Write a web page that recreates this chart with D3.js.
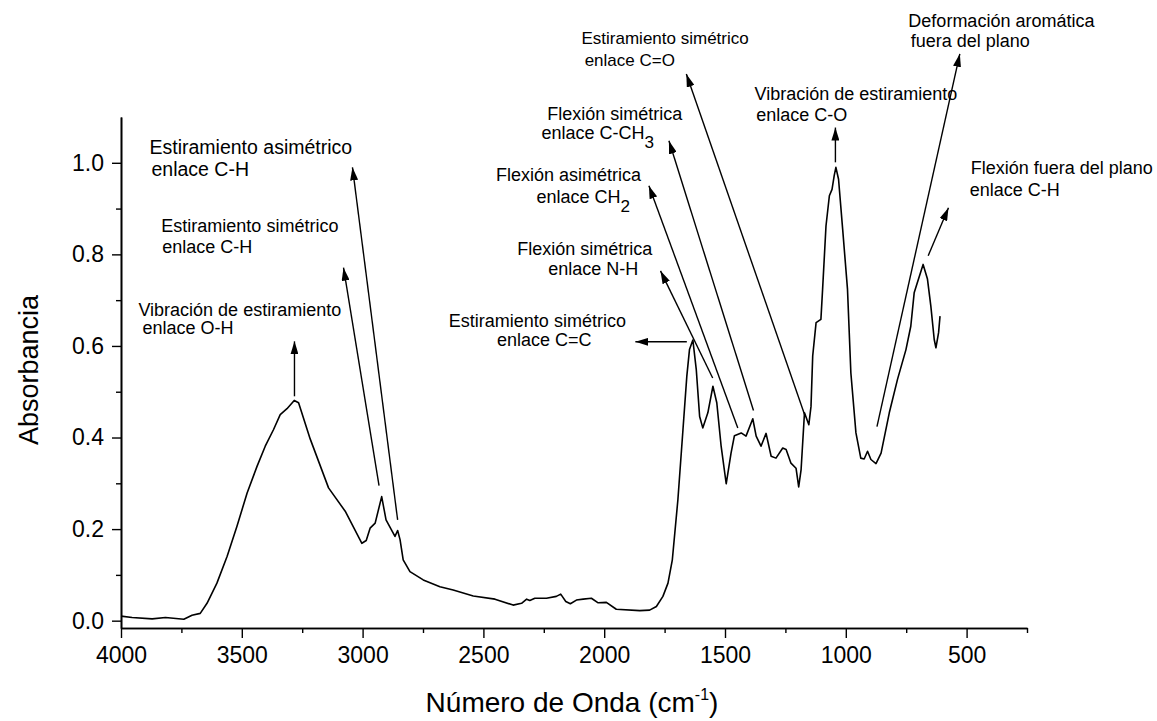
<!DOCTYPE html>
<html>
<head>
<meta charset="utf-8">
<script src="https://cdn.jsdelivr.net/npm/d3@7/dist/d3.min.js"></script>
<style>
  html, body { margin: 0; padding: 0; background: #fff; }
  svg { display: block; font-family: "Liberation Sans", Arial, sans-serif; }
</style>
</head>
<body>
<svg id="chart" width="1157" height="721"></svg>
<script>
// ---- Data ----
const wavenumber = [4000,3954,3871,3816,3740,3706,3672,3644,3603,3561,3520,3478,3437,3403,3369,3341,3313,3283,3265,3217,3141,3072,3003,2985,2969,2948,2921,2903,2866,2855,2845,2832,2804,2749,2680,2625,2542,2452,2377,2342,2321,2308,2287,2239,2198,2180,2159,2140,2115,2087,2053,2025,1991,1950,1853,1812,1784,1757,1736,1718,1695,1674,1658,1647,1633,1619,1605,1592,1571,1550,1534,1516,1495,1475,1461,1433,1413,1385,1371,1351,1330,1309,1289,1261,1247,1227,1206,1195,1185,1171,1153,1144,1137,1123,1103,1096,1082,1068,1057,1048,1041,1030,1013,993,979,958,938,924,910,896,875,854,820,786,751,731,717,704,680,662,648,634,627,616,610];
const absorbance = [0.010,0.007,0.004,0.007,0.003,0.012,0.016,0.038,0.082,0.140,0.206,0.279,0.337,0.381,0.417,0.450,0.463,0.481,0.476,0.397,0.290,0.239,0.169,0.175,0.202,0.213,0.271,0.220,0.184,0.197,0.177,0.133,0.107,0.089,0.074,0.067,0.054,0.047,0.034,0.038,0.047,0.044,0.049,0.049,0.053,0.058,0.042,0.037,0.045,0.047,0.049,0.039,0.040,0.025,0.022,0.023,0.031,0.053,0.082,0.133,0.264,0.417,0.534,0.592,0.613,0.549,0.446,0.421,0.454,0.512,0.476,0.381,0.299,0.366,0.404,0.410,0.403,0.441,0.403,0.381,0.409,0.359,0.355,0.377,0.374,0.344,0.333,0.292,0.330,0.454,0.428,0.468,0.578,0.651,0.658,0.724,0.862,0.928,0.942,0.972,0.990,0.964,0.855,0.724,0.541,0.410,0.355,0.353,0.370,0.352,0.343,0.366,0.454,0.527,0.592,0.643,0.716,0.738,0.778,0.746,0.687,0.614,0.596,0.629,0.665];

const xMajorTicks = [4000,3500,3000,2500,2000,1500,1000,500];
const xMinorTicks = [3750,3250,2750,2250,1750,1250,750,250];
const yMajorTicks = [0.0,0.2,0.4,0.6,0.8,1.0];
const yMinorTicks = [0.1,0.3,0.5,0.7,0.9];

const xTitle = "Número de Onda (cm";
const xTitleSup = "-1";
const yTitle = "Absorbancia";

// Annotations: label lines (text, subscript, anchor in data units) and arrow (tail -> head) in data units
const annLine1 = ["Estiramiento asimétrico","Estiramiento simétrico","Vibración de estiramiento","Estiramiento simétrico","Estiramiento simétrico","Flexión simétrica","Flexión asimétrica","Flexión simétrica","Vibración de estiramiento","Deformación aromática","Flexión fuera del plano"];
const annLine2 = ["enlace C-H","enlace C-H","enlace O-H","enlace C=C","enlace C=O","enlace C-CH","enlace CH","enlace N-H","enlace C-O","fuera del plano","enlace C-H"];
const annSub2  = ["","","","","","3","2","","","",""];
const annL1Pos = [[3882,1.019],[3833,0.849],[3928,0.665],[2643,0.641],[2094,1.260],[2236,1.094],[2448,0.961],[2360,0.798],[1378,1.138],[741,1.296],[483,0.975]];
const annL2Pos = [[3874,0.971],[3829,0.802],[3911,0.625],[2444,0.599],[2081,1.212],[2260,1.052],[2280,0.913],[2232,0.756],[1371,1.092],[731,1.253],[487,0.928]];
const annFont  = [19.5,18,18,18,17,18,18,18,18,18,18];
const arrowTail = [[2855,0.220],[2932,0.295],[3282,0.490],[1658,0.609],[1170,0.449],[1382,0.459],[1447,0.421],[1551,0.530],[1043,1.001],[871,0.424],[659,0.797]];
const arrowHead = [[3042,0.990],[3079,0.771],[3282,0.610],[1871,0.609],[1660,1.194],[1732,1.048],[1815,0.950],[1767,0.764],[1043,1.077],[528,1.238],[575,0.902]];

// ---- Chart ----
const svg = d3.select("#chart");
const x = d3.scaleLinear().domain([4000, 250]).range([121, 1027]);
const y = d3.scaleLinear().domain([-0.016, 1.1]).range([628, 117]);

// defs: arrow marker
svg.append("defs").append("marker")
  .attr("id", "arrow")
  .attr("viewBox", "0 0 13 8")
  .attr("refX", 13).attr("refY", 4)
  .attr("markerWidth", 13).attr("markerHeight", 8)
  .attr("markerUnits", "userSpaceOnUse")
  .attr("orient", "auto")
  .append("path").attr("d", "M0,0 L13,4 L0,8 Z").attr("fill", "#000");

// axes
const axisStyle = g => {
  g.select(".domain").attr("stroke", "#000").attr("stroke-width", 1.6);
  g.selectAll(".tick line").attr("stroke", "#000").attr("stroke-width", 1.4);
  g.selectAll(".tick text").attr("fill", "#000").attr("font-size", 23)
    .attr("font-family", "'Liberation Sans', Arial, sans-serif");
};

svg.append("g").attr("transform", "translate(0,628)")
  .call(d3.axisBottom(x).tickValues(xMinorTicks).tickSize(5).tickSizeOuter(0).tickFormat(""))
  .call(axisStyle);
svg.append("g").attr("transform", "translate(0,628)")
  .call(d3.axisBottom(x).tickValues(xMajorTicks).tickSize(10).tickSizeOuter(0).tickPadding(9).tickFormat(d3.format("d")))
  .call(axisStyle);

svg.append("g").attr("transform", "translate(121,0)")
  .call(d3.axisLeft(y).tickValues(yMinorTicks).tickSize(5).tickSizeOuter(0).tickFormat(""))
  .call(axisStyle);
svg.append("g").attr("transform", "translate(121,0)")
  .call(d3.axisLeft(y).tickValues(yMajorTicks).tickSize(9).tickSizeOuter(0).tickPadding(8).tickFormat(d3.format(".1f")))
  .call(axisStyle);

// titles
const xt = svg.append("text")
  .attr("x", 572).attr("y", 712)
  .attr("text-anchor", "middle")
  .attr("font-size", 28).attr("fill", "#000")
  .text(xTitle);
xt.append("tspan").attr("font-size", 16).attr("dy", -12).text(xTitleSup);
xt.append("tspan").attr("dy", 12).text(")");

svg.append("text")
  .attr("transform", "translate(38,370) rotate(-90)")
  .attr("text-anchor", "middle")
  .attr("font-size", 27).attr("fill", "#000")
  .text(yTitle);

// spectrum line
const pts = wavenumber.map((w, i) => [w, absorbance[i]]);
svg.append("path")
  .datum(pts)
  .attr("fill", "none")
  .attr("stroke", "#000")
  .attr("stroke-width", 1.6)
  .attr("stroke-linejoin", "round")
  .attr("d", d3.line().x(d => x(d[0])).y(d => y(d[1])));

// annotations
const ann = svg.append("g");
annLine1.forEach((t, i) => {
  ann.append("text")
    .attr("x", x(annL1Pos[i][0])).attr("y", y(annL1Pos[i][1]))
    .attr("font-size", annFont[i]).attr("fill", "#000")
    .text(t);
  const t2 = ann.append("text")
    .attr("x", x(annL2Pos[i][0])).attr("y", y(annL2Pos[i][1]))
    .attr("font-size", annFont[i]).attr("fill", "#000")
    .text(annLine2[i]);
  if (annSub2[i]) {
    t2.append("tspan").attr("dy", 9).attr("font-size", annFont[i] * 0.95).text(annSub2[i]);
  }
  ann.append("line")
    .attr("x1", x(arrowTail[i][0])).attr("y1", y(arrowTail[i][1]))
    .attr("x2", x(arrowHead[i][0])).attr("y2", y(arrowHead[i][1]))
    .attr("stroke", "#000").attr("stroke-width", 1.4)
    .attr("marker-end", "url(#arrow)");
});
</script>
</body>
</html>
